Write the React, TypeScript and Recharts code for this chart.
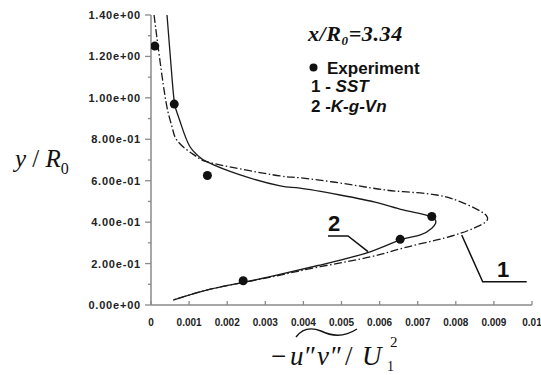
import React from "react";
import { ComposedChart, Line, Scatter, XAxis, YAxis } from "recharts";

// curve 1 - SST (dash-dot), traced top to bottom
const sstX = [0.00008, 0.00018, 0.00037, 0.0005, 0.00058, 0.000675, 0.00094, 0.0012, 0.00146, 0.00234, 0.00339, 0.00391, 0.00496, 0.00596, 0.00662, 0.0075, 0.00819, 0.00882, 0.00856, 0.00812, 0.0075, 0.00662, 0.00575, 0.00444, 0.0032, 0.00234, 0.00146, 0.00058];
const sstY = [1.4, 1.256, 1.006, 0.894, 0.84, 0.797, 0.749, 0.716, 0.692, 0.657, 0.623, 0.614, 0.589, 0.56, 0.547, 0.531, 0.493, 0.427, 0.378, 0.346, 0.314, 0.275, 0.232, 0.185, 0.137, 0.106, 0.072, 0.024];

// curve 2 - K-g-Vn (solid)
const kgvX = [0.00042, 0.00055, 0.00062, 0.0007, 0.00081, 0.00102, 0.00124, 0.00146, 0.00234, 0.00339, 0.00391, 0.00496, 0.00596, 0.00662, 0.00734, 0.00747, 0.00737, 0.00707, 0.00654, 0.00575, 0.00444, 0.00313, 0.00234, 0.00146, 0.00058];
const kgvY = [1.4, 1.1, 0.97, 0.92, 0.86, 0.765, 0.72, 0.692, 0.628, 0.575, 0.564, 0.531, 0.493, 0.459, 0.427, 0.395, 0.371, 0.338, 0.314, 0.257, 0.193, 0.137, 0.106, 0.072, 0.024];

// experiment
const expX = [0.0001, 0.00061, 0.00148, 0.00242, 0.00654, 0.00737];
const expY = [1.25, 0.97, 0.625, 0.117, 0.317, 0.427];

const xTicks = [0, 0.001, 0.002, 0.003, 0.004, 0.005, 0.006, 0.007, 0.008, 0.009, 0.01];
const xTickLabels = ["0", "0.001", "0.002", "0.003", "0.004", "0.005", "0.006", "0.007", "0.008", "0.009", "0.01"];
const yTicks = [0, 0.1, 0.2, 0.3, 0.4, 0.5, 0.6, 0.7, 0.8, 0.9, 1.0, 1.1, 1.2, 1.3, 1.4];

const toPoints = (xs: number[], ys: number[]) => xs.map((x, i) => ({ x, y: ys[i] }));
const sstData = toPoints(sstX, sstY);
const kgvData = toPoints(kgvX, kgvY);
const expData = toPoints(expX, expY);

const AXIS = "#8a8a8a";
const INK = "#1a1a1a";
const SANS = "Liberation Sans, Arial, sans-serif";
const SERIF = "Liberation Serif, Times New Roman, serif";

const fmtExp = (v: number) => {
  const [m, e] = v.toExponential(2).split("e");
  return `${m}e${e[0]}${e.slice(1).padStart(2, "0")}`;
};

const XTick = (props: any) => {
  const { x, y, index } = props;
  return (
    <g>
      <line x1={x} x2={x} y1={y} y2={y - 4} stroke={AXIS} strokeWidth={1.3} />
      <text x={x} y={y + 21} textAnchor="middle" fontFamily={SANS} fontWeight="bold" fontSize={10} fill="#222">
        {xTickLabels[index]}
      </text>
    </g>
  );
};

const YTick = (props: any) => {
  const { x, y, payload } = props;
  const v = payload.value as number;
  const major = Math.round(v * 10) % 2 === 0;
  return (
    <g>
      <line x1={x - (major ? 6 : 3)} x2={x} y1={y} y2={y} stroke={AXIS} strokeWidth={1.3} />
      {major && (
        <text x={x - 10} y={y + 4} textAnchor="end" fontFamily={SANS} fontWeight="bold" fontSize={11} letterSpacing={0.8} fill="#222">
          {fmtExp(v)}
        </text>
      )}
    </g>
  );
};

const Dot = (props: any) => <circle cx={props.cx} cy={props.cy} r={4.5} fill="#111" />;

export default function App() {
  return (
    <div style={{ position: "absolute", left: 0, top: 0, width: 541, height: 375, background: "#fff" }}>
      <ComposedChart width={541} height={375} margin={{ top: 15, right: 9, bottom: 0, left: 0 }}>
        <XAxis
          type="number"
          dataKey="x"
          domain={[0, 0.01]}
          ticks={xTicks}
          interval={0}
          tickSize={0}
          tickMargin={0}
          tickLine={false}
          tick={<XTick />}
          axisLine={{ stroke: AXIS, strokeWidth: 1.5 }}
          height={70}
          allowDataOverflow
        />
        <YAxis
          type="number"
          dataKey="y"
          domain={[0, 1.4]}
          ticks={yTicks}
          interval={0}
          tickSize={0}
          tickMargin={0}
          tickLine={false}
          tick={<YTick />}
          axisLine={{ stroke: AXIS, strokeWidth: 1.5 }}
          width={151}
          allowDataOverflow
        />
        <Line data={sstData} dataKey="y" type="natural" stroke={INK} strokeWidth={1.3} strokeDasharray="8 2.5 1.5 2.5" dot={false} activeDot={false} isAnimationActive={false} />
        <Line data={kgvData} dataKey="y" type="natural" stroke={INK} strokeWidth={1.3} dot={false} activeDot={false} isAnimationActive={false} />
        <Scatter data={expData} dataKey="y" shape={<Dot />} isAnimationActive={false} />
      </ComposedChart>

      <svg width={541} height={375} style={{ position: "absolute", left: 0, top: 0, pointerEvents: "none" }}>
        {/* y axis label */}
        <text x={15} y={167} fontFamily={SERIF} fontSize={25} fill="#111">
          <tspan fontStyle="italic">y</tspan>
          <tspan> / </tspan>
          <tspan fontStyle="italic">R</tspan>
          <tspan fontSize={16} dy={7}>0</tspan>
        </text>

        {/* x axis label */}
        <g fontFamily={SERIF} fontSize={27} fill="#111">
          <text x={271} y={365}>−</text>
          <text x={290} y={365} fontStyle="italic">u</text>
          <text x={305} y={365}>″</text>
          <text x={317} y={365} fontStyle="italic">v</text>
          <text x={331} y={365}>″</text>
          <text x={345} y={365}>/</text>
          <text x={362} y={365} fontStyle="italic">U</text>
          <text x={387} y={371} fontSize={14}>1</text>
          <text x={390} y={347} fontSize={15}>2</text>
          <path d="M296,337 C302,329 311,327 321,331 C331,336 343,338 357,329" fill="none" stroke="#111" strokeWidth={1.4} />
        </g>

        {/* title */}
        <text x={308} y={41} fontFamily={SERIF} fontSize={22} fontWeight="bold" fontStyle="italic" letterSpacing={0.6} fill="#111">
          <tspan>x/R</tspan>
          <tspan fontSize={13} dy={4}>0</tspan>
          <tspan dy={-4}>=3.34</tspan>
        </text>

        {/* legend */}
        <circle cx={313.5} cy={67.5} r={4} fill="#111" />
        <text x={327} y={73.5} fontFamily={SANS} fontSize={17} fontWeight="bold" fill="#111">Experiment</text>
        <text x={311} y={92} fontFamily={SANS} fontSize={17} fontWeight="bold" fill="#111">
          <tspan>1 - </tspan>
          <tspan fontStyle="italic">SST</tspan>
        </text>
        <text x={311} y={112} fontFamily={SANS} fontSize={17} fontWeight="bold" fill="#111">
          <tspan>2 -</tspan>
          <tspan fontStyle="italic">K-g-Vn</tspan>
        </text>

        {/* curve labels */}
        <polyline points="461.7,235 482.7,281.7 526.7,281.7" fill="none" stroke="#111" strokeWidth={1.5} />
        <text x={497} y={277} fontFamily={SANS} fontSize={22} fontWeight="bold" fill="#111">1</text>
        <polyline points="328,236 348,236 368,251.7" fill="none" stroke="#111" strokeWidth={1.5} />
        <text x={328} y={231} fontFamily={SANS} fontSize={22} fontWeight="bold" fill="#111">2</text>
      </svg>
    </div>
  );
}
